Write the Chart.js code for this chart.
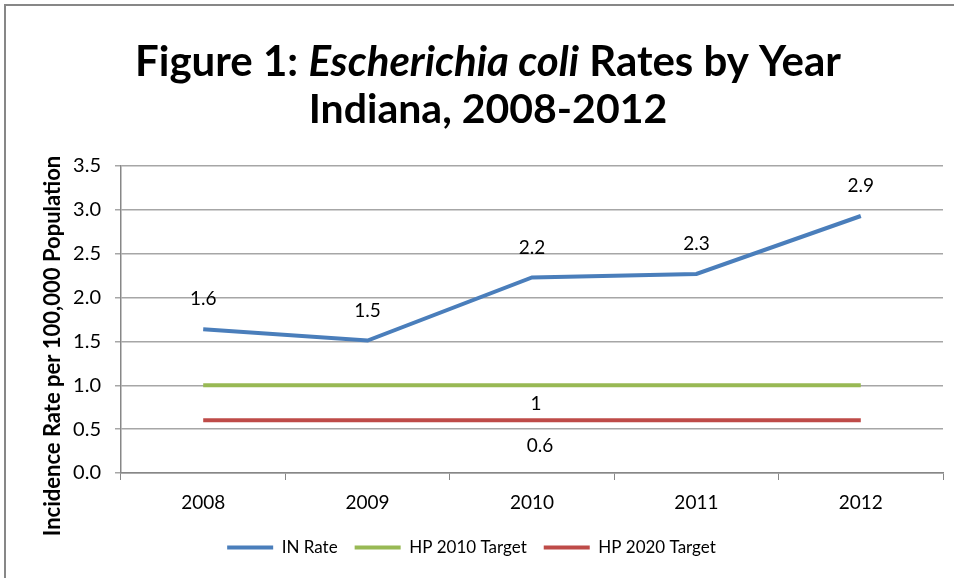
<!DOCTYPE html>
<html>
<head>
<meta charset="utf-8">
<script src="https://cdn.jsdelivr.net/npm/chart.js@4/dist/chart.umd.min.js"></script>
<style>
  html, body { margin: 0; padding: 0; background: #fff; }
  #wrap { width: 954px; height: 578px; position: relative; }
</style>
</head>
<body>
<div id="wrap"><canvas id="chart" width="954" height="578"></canvas></div>
<script>
// Figure 1: E. coli rates, Indiana 2008-2012

const years = ['2008', '2009', '2010', '2011', '2012'];
const inRate = [1.64, 1.51, 2.23, 2.27, 2.93];
const hp2010Target = [1, 1, 1, 1, 1];
const hp2020Target = [0.6, 0.6, 0.6, 0.6, 0.6];
const yTicks = [0, 0.5, 1, 1.5, 2, 2.5, 3, 3.5];

const FONT = "Lato, 'Open Sans', sans-serif";

// frame, title and y axis title drawn on the canvas
const decorPlugin = {
    id: 'decor',
    beforeDraw(chart) {
        const ctx = chart.ctx;
        ctx.save();
        ctx.strokeStyle = '#878787';
        ctx.lineWidth = 2;
        ctx.beginPath();
        ctx.moveTo(5, 578);
        ctx.lineTo(5, 5);
        ctx.lineTo(954, 5);
        ctx.stroke();

        // title line 1 with italic species name
        const parts = [
            { text: 'Figure 1: ', font: 'bold 42px ' + FONT },
            { text: 'Escherichia coli', font: 'italic bold 42px ' + FONT },
            { text: ' Rates by Year', font: 'bold 42px ' + FONT }
        ];
        let total = 0;
        parts.forEach(p => { ctx.font = p.font; p.w = ctx.measureText(p.text).width; total += p.w; });
        let x = 488 - total / 2;
        ctx.fillStyle = '#000';
        ctx.textBaseline = 'middle';
        ctx.textAlign = 'left';
        parts.forEach(p => { ctx.font = p.font; ctx.fillText(p.text, x, 62); x += p.w; });
        ctx.font = 'bold 41px ' + FONT;
        ctx.textAlign = 'center';
        ctx.fillText('Indiana, 2008-2012', 488, 110);

        // y axis title
        ctx.translate(53, 346);
        ctx.rotate(-Math.PI / 2);
        ctx.font = 'bold 22px ' + FONT;
        ctx.fillText('Incidence Rate per 100,000 Population', 0, 0);
        ctx.restore();
    }
};

// data labels: all points for IN Rate, middle point only for targets
const labelPlugin = {
    id: 'valueLabels',
    afterDatasetsDraw(chart) {
        const ctx = chart.ctx;
        ctx.save();
        ctx.font = '19px ' + FONT;
        ctx.fillStyle = '#000';
        ctx.textAlign = 'center';
        ctx.textBaseline = 'middle';
        chart.getDatasetMeta(0).data.forEach((pt, i) => {
            ctx.fillText(inRate[i].toFixed(1), pt.x, pt.y - 30);
        });
        const g = chart.getDatasetMeta(1).data[2];
        ctx.fillText(String(hp2010Target[2]), g.x + 4, g.y + 19);
        const r = chart.getDatasetMeta(2).data[2];
        ctx.fillText(String(hp2020Target[2]), r.x + 8, r.y + 26);
        ctx.restore();
    }
};

new Chart(document.getElementById('chart'), {
    type: 'line',
    data: {
        labels: years,
        datasets: [
            { label: 'IN Rate', data: inRate, borderColor: '#4a7ebb', backgroundColor: '#4a7ebb' },
            { label: 'HP 2010 Target', data: hp2010Target, borderColor: '#98b954', backgroundColor: '#98b954' },
            { label: 'HP 2020 Target', data: hp2020Target, borderColor: '#be4b48', backgroundColor: '#be4b48' }
        ].map(ds => Object.assign(ds, {
            borderWidth: 4,
            pointRadius: 0,
            tension: 0,
            fill: false
        }))
    },
    options: {
        responsive: false,
        animation: false,
        layout: { padding: { left: 0, right: 11, top: 166, bottom: 12 } },
        plugins: {
            title: { display: false },
            tooltip: { enabled: false },
            legend: {
                display: true,
                position: 'bottom',
                labels: {
                    font: { size: 17, family: FONT },
                    color: '#000',
                    boxWidth: 46,
                    boxHeight: 4,
                    padding: 17,
                    generateLabels(chart) {
                        return chart.data.datasets.map((ds, i) => ({
                            text: ds.label,
                            fillStyle: ds.borderColor,
                            strokeStyle: ds.borderColor,
                            lineWidth: 0,
                            datasetIndex: i
                        }));
                    }
                }
            }
        },
        scales: {
            x: {
                offset: true,
                grid: {
                    offset: true,
                    drawOnChartArea: false,
                    drawTicks: true,
                    tickLength: 7,
                    color: '#878787'
                },
                border: { color: '#878787', width: 1.5 },
                ticks: { font: { size: 19, family: FONT }, color: '#000', padding: 11 },
                afterFit(scale) { scale.height = 49; }
            },
            y: {
                min: 0,
                max: 3.5,
                afterBuildTicks(scale) { scale.ticks = yTicks.map(v => ({ value: v })); },
                grid: { color: '#a6a6a6', lineWidth: 1.5, tickLength: 6 },
                border: { color: '#878787', width: 1.5 },
                ticks: {
                    font: { size: 20, family: FONT },
                    color: '#000',
                    padding: 14,
                    callback: v => v.toFixed(1)
                },
                afterFit(scale) { scale.width = 121; }
            }
        }
    },
    plugins: [decorPlugin, labelPlugin]
});
</script>
</body>
</html>
